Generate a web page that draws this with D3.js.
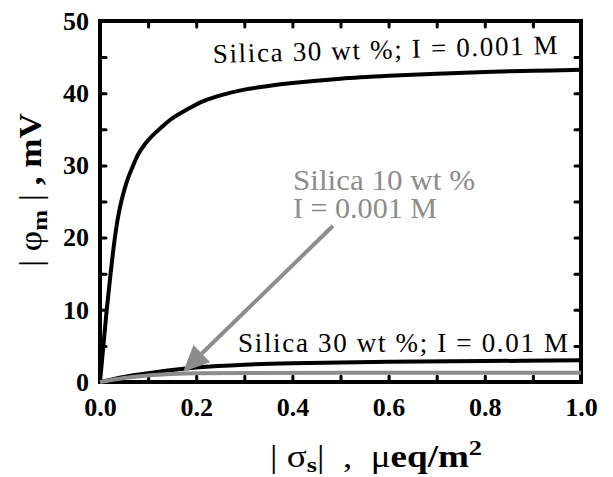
<!DOCTYPE html>
<html>
<head>
<meta charset="utf-8">
<script src="https://cdn.jsdelivr.net/npm/d3@7"></script>
<style>
  body { margin: 0; background: #fff; }
  svg { display: block; }
  svg text { font-family: 'Liberation Serif', 'Times New Roman', serif; }
</style>
</head>
<body>
<script>
// silica 30 wt %, I = 0.001 M
const sigmaA = [0, 0.007, 0.014, 0.022, 0.031, 0.038, 0.045, 0.057, 0.069, 0.08, 0.094, 0.11, 0.125, 0.15, 0.18, 0.215, 0.256, 0.3, 0.35, 0.4, 0.5, 0.6, 0.7, 0.8, 0.9, 1.0];
const phiA   = [0, 5, 10, 15, 20, 23, 25.2, 28, 30, 31.6, 33, 34.2, 35.1, 36.5, 37.7, 38.9, 39.8, 40.5, 41.0, 41.4, 42.0, 42.4, 42.7, 42.95, 43.1, 43.25];
// silica 30 wt %, I = 0.01 M
const sigmaB = [0, 0.05, 0.1, 0.15, 0.2, 0.3, 0.4, 0.5, 0.6, 0.8, 1.0];
const phiB   = [0, 0.7, 1.2, 1.65, 2.0, 2.4, 2.6, 2.7, 2.8, 2.9, 3.0];
// silica 10 wt %, I = 0.001 M
const sigmaC = [0, 0.05, 0.1, 0.15, 0.2, 0.3, 0.5, 1.0];
const phiC   = [0, 0.55, 0.9, 1.1, 1.2, 1.25, 1.28, 1.28];

const xLabels = [0, 0.2, 0.4, 0.6, 0.8, 1.0];
const yLabels = [0, 10, 20, 30, 40, 50];

// arrow: from text to curve C
const arrowFrom = [0.484, 21.6];
const arrowTo   = [0.173, 1.43];

(function() {
  const W = 613, H = 477;
  const mLeft = 100, mRight = 581, mTop = 21, mBottom = 382;
  const serif = "'Liberation Serif', 'Times New Roman', serif";

  let svg = d3.select('body').append('svg')
    .attr('width', W)
    .attr('height', H);

  let x = d3.scaleLinear().domain([0, 1]).range([mLeft, mRight]);
  let y = d3.scaleLinear().domain([0, 50]).range([mBottom, mTop]);

  let xTicks = d3.range(0, 11).map(d => d / 10);
  let yTicks = d3.range(0, 11).map(d => d * 5);

  function styleAxis(g) {
    g.attr('font-family', serif);
    g.select('.domain').remove();
    g.selectAll('.tick line')
      .attr('stroke', '#000')
      .attr('stroke-width', 3)
      .attr('stroke-linecap', 'round');
    g.selectAll('.tick text')
      .attr('font-size', 26)
      .attr('font-weight', 'bold')
      .attr('fill', '#000');
  }

  // bottom axis with labels
  svg.append('g')
    .attr('transform', `translate(0, ${mBottom})`)
    .call(d3.axisBottom(x).tickValues(xTicks).tickSize(-6).tickPadding(16)
      .tickFormat(d => xLabels.some(v => Math.abs(v - d) < 1e-9) ? d3.format('.1f')(d) : ''))
    .call(styleAxis);

  // top axis
  svg.append('g')
    .attr('transform', `translate(0, ${mTop})`)
    .call(d3.axisTop(x).tickValues(xTicks).tickSize(-6).tickFormat(''))
    .call(styleAxis);

  // left axis with labels
  svg.append('g')
    .attr('transform', `translate(${mLeft}, 0)`)
    .call(d3.axisLeft(y).tickValues(yTicks).tickSize(-6).tickPadding(11)
      .tickFormat(d => yLabels.includes(d) ? d : ''))
    .call(styleAxis);

  // right axis
  svg.append('g')
    .attr('transform', `translate(${mRight}, 0)`)
    .call(d3.axisRight(y).tickValues(yTicks).tickSize(-6).tickFormat(''))
    .call(styleAxis);

  // frame
  svg.append('rect')
    .attr('x', mLeft)
    .attr('y', mTop)
    .attr('width', mRight - mLeft)
    .attr('height', mBottom - mTop)
    .attr('fill', 'none')
    .attr('stroke', '#000')
    .attr('stroke-width', 4);

  let line = d3.line()
    .x(d => x(d[0]))
    .y(d => y(d[1]))
    .curve(d3.curveCatmullRom.alpha(0.5));

  svg.append('path')
    .attr('d', line(d3.zip(sigmaA, phiA)))
    .attr('fill', 'none')
    .attr('stroke', '#000')
    .attr('stroke-width', 4);

  svg.append('path')
    .attr('d', line(d3.zip(sigmaB, phiB)))
    .attr('fill', 'none')
    .attr('stroke', '#000')
    .attr('stroke-width', 4);

  svg.append('path')
    .attr('d', line(d3.zip(sigmaC, phiC)))
    .attr('fill', 'none')
    .attr('stroke', '#8c8c8c')
    .attr('stroke-width', 4);

  // arrow
  let x1 = x(arrowFrom[0]), y1 = y(arrowFrom[1]);
  let x2 = x(arrowTo[0]), y2 = y(arrowTo[1]);
  let ang = Math.atan2(y2 - y1, x2 - x1);
  let headLen = 26, headW = 12;
  let bx = x2 - headLen * Math.cos(ang), by = y2 - headLen * Math.sin(ang);
  svg.append('line')
    .attr('x1', x1).attr('y1', y1)
    .attr('x2', bx).attr('y2', by)
    .attr('stroke', '#8c8c8c')
    .attr('stroke-width', 4);
  svg.append('polygon')
    .attr('points', [
      [x2, y2],
      [bx + headW * Math.sin(ang), by - headW * Math.cos(ang)],
      [bx - headW * Math.sin(ang), by + headW * Math.cos(ang)]
    ].map(p => p.join(',')).join(' '))
    .attr('fill', '#8c8c8c');

  // curve labels
  svg.append('text')
    .attr('x', 213)
    .attr('y', 63)
    .attr('transform', 'rotate(-1.5, 213, 63)')
    .attr('font-size', 27)
    .attr('textLength', 345)
    .attr('lengthAdjust', 'spacing')
    .text('Silica 30 wt %; I = 0.001 M');

  svg.append('text')
    .attr('x', 238)
    .attr('y', 352)
    .attr('font-size', 27)
    .attr('textLength', 330)
    .attr('lengthAdjust', 'spacing')
    .text('Silica 30 wt %; I = 0.01 M');

  svg.append('text')
    .attr('x', 293)
    .attr('y', 190)
    .attr('font-size', 30)
    .attr('fill', '#8c8c8c')
    .attr('textLength', 182)
    .attr('lengthAdjust', 'spacingAndGlyphs')
    .text('Silica 10 wt %');

  svg.append('text')
    .attr('x', 293)
    .attr('y', 218)
    .attr('font-size', 30)
    .attr('fill', '#8c8c8c')
    .attr('textLength', 144)
    .attr('lengthAdjust', 'spacingAndGlyphs')
    .text('I = 0.001 M');

  // x axis title
  let xt = svg.append('text')
    .attr('x', 270)
    .attr('y', 467)
    .attr('font-size', 31)
    .attr('textLength', 212)
    .attr('lengthAdjust', 'spacingAndGlyphs')
    .style('white-space', 'pre');
  xt.append('tspan').text('| σ');
  xt.append('tspan').attr('font-weight', 'bold').attr('font-size', 22).attr('dy', 5).text('s');
  xt.append('tspan').attr('dy', -5).text('|  ,  μ');
  xt.append('tspan').attr('font-weight', 'bold').text('eq/m');
  xt.append('tspan').attr('font-weight', 'bold').attr('font-size', 22).attr('dy', -12).text('2');

  // y axis title
  let yt = svg.append('text')
    .attr('transform', 'translate(41, 267) rotate(-90)')
    .attr('font-size', 31)
    .attr('textLength', 154)
    .attr('lengthAdjust', 'spacingAndGlyphs')
    .style('white-space', 'pre');
  yt.append('tspan').text('| φ');
  yt.append('tspan').attr('font-weight', 'bold').attr('font-size', 22).attr('dy', 6).text('m');
  yt.append('tspan').attr('dy', -6).text(' | ');
  yt.append('tspan').attr('font-weight', 'bold').text(', mV');
})();
</script>
</body>
</html>
